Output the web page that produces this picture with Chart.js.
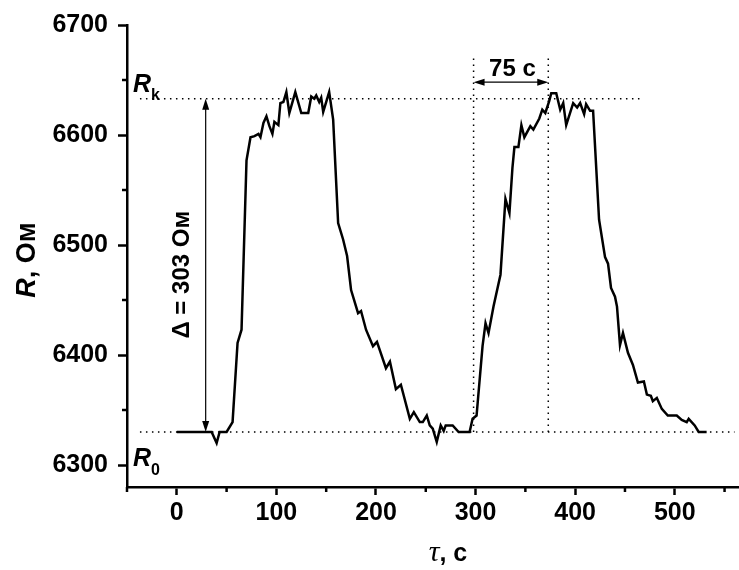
<!DOCTYPE html>
<html><head><meta charset="utf-8">
<script src="https://cdn.jsdelivr.net/npm/chart.js@4"></script>
<style>html,body{margin:0;padding:0;background:#fff}#wrap{width:739px;height:570px}</style>
</head><body><div id="wrap"><canvas id="c" width="739" height="570"></canvas></div>
<script>
// ---- data ----
const timeS = [0,35,40,43,50,56,61,65,70,74,78,82,84,87,90,93,96,98,102,104,107,110,113,119,125,132,135,138,140,143,145,147,153,157,162,167,171,175,182,185,190,197,201,210,214,220,225,234,238,244,247,251,254,257,261,265,268,270,277,283,294,297,301,307,310,313,318,325,330,334,337,339,343,346,349,355,358,364,367,370,374,376,381,385,388,391,398,402,405,409,411,415,418,424,430,433,436,440,442,445,448,453,458,463,469,472,476,478,482,487,493,502,507,512,514,520,524,532];
const resistance = [6330,6330,6320,6330,6330,6339,6411,6423,6577,6598,6599,6601,6598,6611,6617,6608,6601,6612,6609,6629,6630,6639,6620,6639,6620,6620,6635,6633,6636,6630,6634,6621,6639,6614,6520,6505,6490,6459,6438,6440,6423,6408,6412,6388,6394,6369,6373,6342,6348,6339,6339,6345,6336,6333,6321,6336,6331,6336,6336,6330,6330,6342,6345,6408,6429,6420,6444,6473,6542,6529,6570,6589,6589,6609,6598,6608,6605,6615,6623,6620,6631,6638,6638,6623,6629,6609,6629,6625,6629,6619,6628,6622,6622,6523,6489,6483,6461,6453,6444,6409,6420,6402,6391,6375,6376,6364,6363,6358,6361,6351,6345,6345,6341,6339,6342,6336,6330,6330];
const xMajorTicks = [0,100,200,300,400,500];
const xMinorTicks = [-50,50,150,250,350,450,550];
const yMajorTicks = [6300,6400,6500,6600,6700];
const yMinorTicks = [6350,6450,6550,6650];
const R0 = 6330, Rk = 6633, deltaR = 303;
const tRise0 = 298, tRise1 = 373;
const refLineStart = -37, RkLineEnd = 468, R0LineEnd = 560, vLineTop = 6672;
const deltaLabel = 'Δ = 303 Ом', riseLabel = '75 с';

const FONT = "'Liberation Sans', Arial, sans-serif";
const dotted = {borderColor:'#000', borderWidth:1.5, borderDash:[1.5,4.5], pointRadius:0, fill:false, tension:0};

function arrowHead(ctx, x, y, ang){
  const L = 11, W = 3.5;
  ctx.save(); ctx.translate(x,y); ctx.rotate(ang);
  ctx.beginPath(); ctx.moveTo(0,0); ctx.lineTo(-L,-W); ctx.lineTo(-L,W); ctx.closePath(); ctx.fill();
  ctx.restore();
}

const annot = {
  id:'annot',
  afterDraw(chart){
    const ctx = chart.ctx, xs = chart.scales.x, ys = chart.scales.y;
    const ca = chart.chartArea;
    ctx.save();
    ctx.fillStyle = '#000'; ctx.strokeStyle = '#000';
    // minor ticks
    ctx.lineWidth = 2.5;
    xMinorTicks.forEach(v=>{const px=xs.getPixelForValue(v); ctx.beginPath(); ctx.moveTo(px,ca.bottom); ctx.lineTo(px,ca.bottom+5); ctx.stroke();});
    yMinorTicks.forEach(v=>{const py=ys.getPixelForValue(v); ctx.beginPath(); ctx.moveTo(ca.left,py); ctx.lineTo(ca.left-5,py); ctx.stroke();});
    // delta arrow
    ctx.lineWidth = 1.2;
    const ax = xs.getPixelForValue(29), ay0 = ys.getPixelForValue(Rk), ay1 = ys.getPixelForValue(R0);
    ctx.beginPath(); ctx.moveTo(ax, ay0+6); ctx.lineTo(ax, ay1-6); ctx.stroke();
    arrowHead(ctx, ax, ay0, -Math.PI/2); arrowHead(ctx, ax, ay1, Math.PI/2);
    // delta text
    ctx.save();
    ctx.translate(xs.getPixelForValue(6), ys.getPixelForValue(6473));
    ctx.rotate(-Math.PI/2);
    ctx.font = 'bold 24px ' + FONT; ctx.textAlign='center'; ctx.textBaseline='middle';
    ctx.fillText(deltaLabel, 0, 0);
    ctx.restore();
    // 75 s arrow
    const hy = ys.getPixelForValue(6648), hx0 = xs.getPixelForValue(tRise0), hx1 = xs.getPixelForValue(tRise1);
    ctx.beginPath(); ctx.moveTo(hx0+6, hy); ctx.lineTo(hx1-6, hy); ctx.stroke();
    arrowHead(ctx, hx0, hy, Math.PI); arrowHead(ctx, hx1, hy, 0);
    ctx.font = 'bold 24px ' + FONT; ctx.textAlign='center'; ctx.textBaseline='alphabetic';
    ctx.fillText(riseLabel, xs.getPixelForValue(337), ys.getPixelForValue(6654));
    // Rk / R0 labels
    ctx.textAlign='left';
    const lx = xs.getPixelForValue(-44);
    ctx.font = 'italic bold 25px ' + FONT;
    ctx.fillText('R', lx, ys.getPixelForValue(6639));
    ctx.fillText('R', lx, ys.getPixelForValue(6299));
    const rw = ctx.measureText('R').width;
    ctx.font = 'bold 16px ' + FONT;
    ctx.fillText('k', lx+rw, ys.getPixelForValue(6632));
    ctx.fillText('0', lx+rw, ys.getPixelForValue(6291));
    // y title
    ctx.save();
    ctx.translate(35, 260); ctx.rotate(-Math.PI/2);
    ctx.textBaseline='alphabetic';
    ctx.font = 'italic bold 27px ' + FONT; const w1 = ctx.measureText('R').width;
    ctx.font = 'bold 27px ' + FONT; const w2 = ctx.measureText(', Ом').width;
    let sx = -(w1+w2)/2;
    ctx.font = 'italic bold 27px ' + FONT; ctx.fillText('R', sx, 0);
    ctx.font = 'bold 27px ' + FONT; ctx.fillText(', Ом', sx+w1, 0);
    ctx.restore();
    // x title
    ctx.font = 'italic 30px "Liberation Serif", serif'; const t1 = ctx.measureText('τ').width;
    ctx.font = 'bold 25px ' + FONT; const t2 = ctx.measureText(', с').width;
    let tx = 448-(t1+t2)/2;
    ctx.font = 'italic 30px "Liberation Serif", serif'; ctx.fillText('τ', tx, 561);
    ctx.font = 'bold 25px ' + FONT; ctx.fillText(', с', tx+t1, 561);
    ctx.restore();
  }
};

new Chart(document.getElementById('c'), {
  type:'line',
  data:{datasets:[
    {data: timeS.map((t,i)=>({x:t,y:resistance[i]})), borderColor:'#000', borderWidth:2.5, pointRadius:0, fill:false, tension:0},
    Object.assign({data:[{x:refLineStart,y:Rk},{x:RkLineEnd,y:Rk}]}, dotted),
    Object.assign({data:[{x:refLineStart,y:R0},{x:R0LineEnd,y:R0}]}, dotted),
    Object.assign({data:[{x:tRise0,y:R0},{x:tRise0,y:vLineTop}]}, dotted),
    Object.assign({data:[{x:tRise1,y:R0},{x:tRise1,y:vLineTop}]}, dotted)
  ]},
  options:{
    responsive:false, animation:false, devicePixelRatio:1,
    layout:{padding:{top:25,right:0,left:0,bottom:0}},
    plugins:{legend:{display:false}, tooltip:{enabled:false}},
    scales:{
      x:{type:'linear', min:-50, max:564.5,
        afterBuildTicks:s=>{s.ticks = xMajorTicks.map(v=>({value:v}));},
        afterFit:s=>{s.height = 83;},
        border:{display:true, color:'#000', width:2.5},
        grid:{drawOnChartArea:false, drawTicks:true, tickLength:8, tickWidth:2.5, tickColor:'#000', color:'#000'},
        ticks:{color:'#000', font:{family:FONT, weight:'bold', size:25}, padding:3, maxRotation:0, callback:v=>String(v)}
      },
      y:{type:'linear', min:6280, max:6700,
        afterBuildTicks:s=>{s.ticks = yMajorTicks.map(v=>({value:v}));},
        afterFit:s=>{s.width = 127;},
        border:{display:true, color:'#000', width:2.5},
        grid:{drawOnChartArea:false, drawTicks:true, tickLength:9, tickWidth:2.5, tickColor:'#000', color:'#000'},
        ticks:{color:'#000', font:{family:FONT, weight:'bold', size:25}, padding:10, callback:v=>String(v)}
      }
    }
  },
  plugins:[annot]
});
</script></body></html>
